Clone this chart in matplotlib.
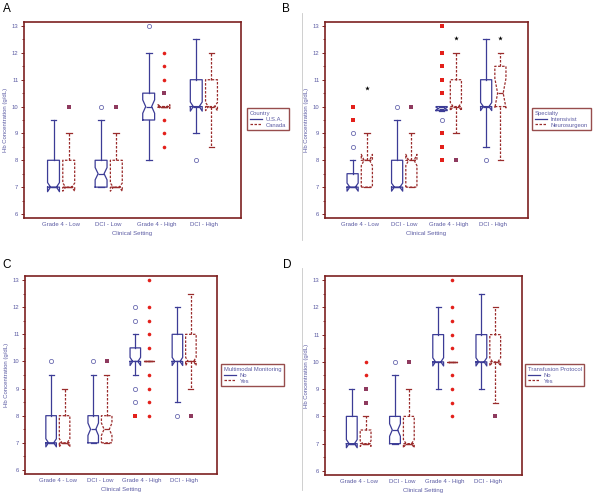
import matplotlib
matplotlib.use('Agg')
import matplotlib.pyplot as plt
from matplotlib.lines import Line2D

plt.rcParams['font.family'] = ['Liberation Sans', 'DejaVu Sans']

# Categorias
groups = ['Grade 4 - Low', 'DCI - Low', 'Grade 4 - High', 'DCI - High']

# Cada linha: (whisker lo, q1, mediana, q3, whisker hi, notch lo, notch hi)
a_usa = [(7, 7, 7, 8, 9.5, 6.83, 7.17),
         (7, 7, 7.5, 8, 9.5, 7.27, 7.73),
         (8, 9.5, 10, 10.5, 12, 9.75, 10.25),
         (9, 10, 10, 11, 12.5, 9.83, 10.17)]
a_can = [(7, 7, 7, 8, 9, 6.85, 7.15),
         (7, 7, 7, 8, 9, 6.85, 7.15),
         (10, 10, 10, 10, 10, 9.93, 10.07),
         (8.5, 10, 10, 11, 12, 9.85, 10.15)]
b_int = [(7, 7, 7, 7.5, 8, 6.85, 7.15),
         (7, 7, 7, 8, 9.5, 6.85, 7.15),
         (9.85, 9.85, 9.92, 10, 10, 9.88, 9.97),
         (8.5, 10, 10, 11, 12.5, 9.85, 10.15)]
b_neu = [(7, 7, 8, 8, 9, 7.8, 8.22),
         (7, 7, 8, 8, 9, 7.8, 8.22),
         (9, 10, 10, 11, 12, 9.85, 10.15),
         (8, 10, 10.5, 11.5, 12, 9.95, 11.05)]
c_no = [(7, 7, 7, 8, 9.5, 6.85, 7.15),
        (7, 7, 7.5, 8, 9.5, 7.27, 7.73),
        (9.5, 10, 10, 10.5, 11, 9.85, 10.15),
        (8.5, 10, 10, 11, 12, 9.85, 10.15)]
c_yes = [(7, 7, 7, 8, 9, 6.85, 7.15),
         (7, 7, 7.5, 8, 9.5, 7.27, 7.73),
         (10, 10, 10, 10, 10, 10, 10),
         (9, 10, 10, 11, 12.5, 9.85, 10.15)]
d_no = [(7, 7, 7, 8, 9, 6.85, 7.15),
        (7, 7, 7.5, 8, 9.5, 7.27, 7.73),
        (9, 10, 10, 11, 12, 9.85, 10.15),
        (9, 10, 10, 11, 12.5, 9.85, 10.15)]
d_yes = [(7, 7, 7, 7.5, 8, 6.9, 7.1),
         (7, 7, 7, 8, 9, 6.85, 7.15),
         (10, 10, 10, 10, 10, 10, 10),
         (8.5, 10, 10, 11, 12, 9.85, 10.15)]

# Outliers: (grupo, valor, tipo)
a_usa_out = [(1, 10, 'o'), (2, 13, 'o'), (3, 8, 'o')]
a_can_out = [(0, 10, 'sq'), (1, 10, 'sq'), (2, 12, 'dot'), (2, 11.5, 'dot'),
             (2, 11, 'dot'), (2, 10.5, 'sq'), (2, 9.5, 'dot'), (2, 9, 'dot'),
             (2, 8.5, 'dot')]
b_int_out = [(0, 10, 'sqr'), (0, 9.5, 'sqr'), (0, 9, 'o'), (0, 8.5, 'o'),
             (1, 10, 'o'), (2, 13, 'sqr'), (2, 12, 'sqr'), (2, 11.5, 'sqr'),
             (2, 11, 'sqr'), (2, 10.5, 'sqr'), (2, 9.5, 'o'), (2, 9, 'sqr'),
             (2, 8.5, 'sqr'), (2, 8, 'sqr'), (3, 8, 'o')]
b_neu_out = [(1, 10, 'sq'), (2, 8, 'sq')]
c_no_out = [(0, 10, 'o'), (1, 10, 'o'), (2, 12, 'o'), (2, 11.5, 'o'),
            (2, 9, 'o'), (2, 8.5, 'o'), (2, 8, 'sqr'), (3, 8, 'o')]
c_yes_out = [(1, 10, 'sq'), (2, 13, 'dot'), (2, 12, 'dot'), (2, 11.5, 'dot'),
             (2, 11, 'dot'), (2, 10.5, 'dot'), (2, 9.5, 'dot'), (2, 9, 'dot'),
             (2, 8.5, 'dot'), (2, 8, 'dot'), (3, 8, 'sq')]
d_no_out = [(1, 10, 'o')]
d_yes_out = [(0, 10, 'dot'), (0, 9.5, 'dot'), (0, 9, 'sq'), (0, 8.5, 'sq'),
             (1, 10, 'sq'), (2, 13, 'dot'), (2, 12, 'dot'), (2, 11.5, 'dot'),
             (2, 11, 'dot'), (2, 10.5, 'dot'), (2, 9.5, 'dot'), (2, 9, 'dot'),
             (2, 8.5, 'dot'), (2, 8, 'dot'), (3, 8, 'sq')]

# Asteriscos de significancia (painel B, serie Neurosurgeon)
b_star_grp = [0, 2, 3]
b_star_val = [10.7, 12.55, 12.55]

BLUE = '#3c3c96'
RED = '#9a2c2c'
FRAME = '#7d2020'
TXT = '#5b5ba3'
DOT = '#e3201b'
SQ = '#8e3a5e'

MARK = {
    'o': dict(marker='o', ms=3.0, mfc='none', mec='#6b6bb0', mew=0.6),
    'dot': dict(marker='o', ms=2.6, mfc=DOT, mec=DOT, mew=0),
    'sq': dict(marker='s', ms=2.3, mfc=SQ, mec=SQ, mew=0),
    'sqr': dict(marker='s', ms=2.3, mfc=DOT, mec=DOT, mew=0),
}

OFF = 0.16
W = 0.25


def to_stats(rows):
    return [dict(whislo=r[0], q1=r[1], med=r[2], q3=r[3], whishi=r[4],
                 cilo=r[5], cihi=r[6], fliers=[]) for r in rows]


def draw_series(ax, rows, outs, side, color, ls):
    pos = [i + 1 + side * OFF for i in range(len(rows))]
    lp = dict(color=color, linestyle=ls, linewidth=0.9)
    ax.bxp(to_stats(rows), positions=pos, widths=W, shownotches=True,
           showfliers=False, boxprops=lp, whiskerprops=lp,
           capprops=dict(color=color, linewidth=0.9),
           medianprops=dict(color=color, linewidth=0.9),
           capwidths=0.12, manage_ticks=False)
    for g, v, k in outs:
        ax.plot(g + 1 + side * OFF, v, linestyle='none', **MARK[k])


fig = plt.figure(figsize=(6, 4.96), dpi=100)
FW, FH = 600, 496


def make_ax(l, r, t, b):
    ax = fig.add_axes([l / FW, 1 - b / FH, (r - l) / FW, (b - t) / FH])
    ax.set_xlim(0.22, 4.78)
    ax.set_ylim(5.85, 13.15)
    ax.set_yticks(range(6, 14))
    ax.set_yticks([x + 0.5 for x in range(6, 13)], minor=True)
    ax.set_xticks(range(1, 5))
    ax.set_xticklabels(groups)
    for s in ax.spines.values():
        s.set_color(FRAME)
        s.set_linewidth(1.2)
    ax.tick_params(axis='y', which='major', direction='out', length=2.5,
                   width=0.7, color=FRAME, labelsize=4.2, labelcolor=TXT, pad=1.5)
    ax.tick_params(axis='y', which='minor', direction='out', length=1.3,
                   width=0.6, color=FRAME)
    ax.tick_params(axis='x', length=0, labelsize=4.3, labelcolor=TXT, pad=3)
    ax.set_ylabel('Hb Concentration (g/dL)', fontsize=4.3, color=TXT)
    ax.set_xlabel('Clinical Setting', fontsize=4.3, color=TXT)
    ax.yaxis.set_label_coords(-16 / (r - l), 0.5)
    ax.xaxis.set_label_coords(0.5, -13 / (b - t))
    return ax


def add_legend(ax, x, y, title, labels):
    handles = [Line2D([], [], color=BLUE, lw=0.9),
               Line2D([], [], color=RED, lw=0.9, linestyle=(0, (2, 1.2)))]
    leg = ax.legend(handles, labels, title=title, loc='upper left',
                    bbox_to_anchor=(x / FW, 1 - y / FH),
                    bbox_transform=fig.transFigure, fontsize=4.2,
                    title_fontsize=4.2, handlelength=2.2, handletextpad=0.6,
                    borderpad=0.45, labelspacing=0.15, borderaxespad=0,
                    fancybox=False, alignment='left', labelcolor=TXT)
    leg.get_title().set_color(TXT)
    leg.get_frame().set_edgecolor(FRAME)
    leg.get_frame().set_linewidth(1.0)


DASH = (0, (2, 1.2))

axA = make_ax(24, 241, 22, 218)
draw_series(axA, a_usa, a_usa_out, -1, BLUE, '-')
draw_series(axA, a_can, a_can_out, 1, RED, DASH)
add_legend(axA, 247, 108, 'Country', ['U.S.A.', 'Canada'])

axB = make_ax(325, 528, 22, 218)
draw_series(axB, b_int, b_int_out, -1, BLUE, '-')
draw_series(axB, b_neu, b_neu_out, 1, RED, DASH)
axB.plot([g + 1 + OFF for g in b_star_grp], b_star_val, linestyle='none',
         marker='*', ms=3.5, color='black', mew=0)
add_legend(axB, 532, 108, 'Specialty', ['Intensivist', 'Neurosurgeon'])

axC = make_ax(25, 217, 276, 474)
draw_series(axC, c_no, c_no_out, -1, BLUE, '-')
draw_series(axC, c_yes, c_yes_out, 1, RED, DASH)
add_legend(axC, 221, 364, 'Multimodal Monitoring', ['No', 'Yes'])

axD = make_ax(325, 522, 276, 475)
draw_series(axD, d_no, d_no_out, -1, BLUE, '-')
draw_series(axD, d_yes, d_yes_out, 1, RED, DASH)
add_legend(axD, 525, 364, 'Transfusion Protocol', ['No', 'Yes'])

# letras dos paineis
for lx, ly, s in [(3, 3, 'A'), (282, 3, 'B'), (2, 259, 'C'), (283, 259, 'D')]:
    fig.text(lx / FW, 1 - ly / FH, s, fontsize=8.5, va='top', ha='left')

# linha separadora cinza
for y0, y1 in [(13, 240), (268, 490)]:
    fig.add_artist(Line2D([302 / FW, 302 / FW], [1 - y0 / FH, 1 - y1 / FH],
                          color='#c8c8c8', lw=0.6))

fig.savefig('out.png', dpi=100)
